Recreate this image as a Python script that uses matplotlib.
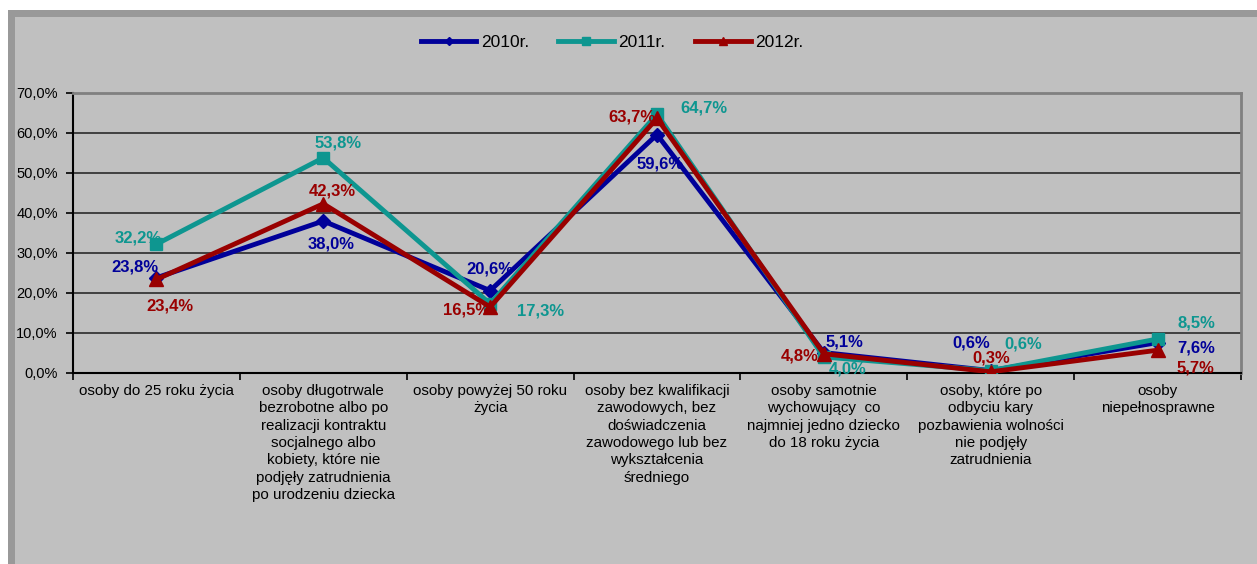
import matplotlib.pyplot as plt
from matplotlib.patches import Rectangle
from matplotlib.ticker import FuncFormatter, FixedLocator
import numpy as np

plt.rcParams['font.family'] = ['Liberation Sans', 'DejaVu Sans']

categories = [
    "osoby do 25 roku życia",
    "osoby długotrwale\nbezrobotne albo po\nrealizacji kontraktu\nsocjalnego albo\nkobiety, które nie\npodjęły zatrudnienia\npo urodzeniu dziecka",
    "osoby powyżej 50 roku\nżycia",
    "osoby bez kwalifikacji\nzawodowych, bez\ndoświadczenia\nzawodowego lub bez\nwykształcenia\nśredniego",
    "osoby samotnie\nwychowujący  co\nnajmniej jedno dziecko\ndo 18 roku życia",
    "osoby, które po\nodbyciu kary\npozbawienia wolności\nnie podjęły\nzatrudnienia",
    "osoby\nniepełnosprawne",
]
series_names = ["2010r.", "2011r.", "2012r."]
v2010 = [23.8, 38.0, 20.6, 59.6, 5.1, 0.6, 7.6]
v2011 = [32.2, 53.8, 17.3, 64.7, 4.0, 0.6, 8.5]
v2012 = [23.4, 42.3, 16.5, 63.7, 4.8, 0.3, 5.7]

colors = ["#000099", "#0e9690", "#990000"]
markers = ["D", "s", "^"]
msizes = [7, 9, 10]

# label offsets in pixels (dx, dy) for each point
offs = [
    [(-21, 11), (8, -23), (0, 22), (3, -29), (21, 11), (-19, 28), (39, -5)],
    [(-18, 6), (15, 15), (50, -7), (47, 6), (24, -12), (33, 27), (39, 16)],
    [(14, -27), (9, 13), (-24, -3), (-25, 1), (-24, -2), (1, 14), (38, -18)],
]

W, H = 1257, 564
fig = plt.figure(figsize=(W / 100, H / 100), dpi=100)
fig.patch.set_facecolor("white")

# chart area frame
fig.add_artist(Rectangle((8 / W, 0), 1 - 8 / W, 1 - 10 / H, transform=fig.transFigure,
                         facecolor="#999999", edgecolor="none", zorder=-2))
fig.add_artist(Rectangle((15 / W, 0), 1 - 15 / W, 1 - 17 / H, transform=fig.transFigure,
                         facecolor="#c0c0c0", edgecolor="none", zorder=-1))

ax = fig.add_axes([73 / W, 1 - 373 / H, (1241 - 73) / W, (373 - 93) / H])
ax.set_facecolor("#c0c0c0")

x = np.arange(len(categories))
all_vals = [v2010, v2011, v2012]
lines = []
for i, vals in enumerate(all_vals):
    ln, = ax.plot(x, vals, color=colors[i], lw=3.5, marker=markers[i], ms=msizes[i],
                  solid_joinstyle="miter", zorder=3 + i, label=series_names[i])
    lines.append(ln)
    for j, v in enumerate(vals):
        dx, dy = offs[i][j]
        ax.annotate(f"{v:.1f}%".replace(".", ","), (x[j], v),
                    xytext=(dx * 0.72, dy * 0.72), textcoords="offset points",
                    ha="center", va="center", fontsize=12, fontweight="bold",
                    color=colors[i], zorder=10)

ax.set_xlim(-0.5, len(categories) - 0.5)
ax.set_ylim(0, 70)
ax.set_yticks(np.arange(0, 71, 10))
ax.yaxis.set_major_formatter(FuncFormatter(lambda v, p: f"{v:.1f}%".replace(".", ",")))
ax.yaxis.grid(True, color="#2a2a2a", lw=1.2)
ax.set_axisbelow(True)

ax.set_xticks(x)
ax.set_xticklabels(categories, fontsize=10.9, linespacing=1.3, va="top")
ax.tick_params(axis="x", which="major", length=0, pad=8)
ax.xaxis.set_minor_locator(FixedLocator(np.arange(-0.5, len(categories), 1)))
ax.tick_params(axis="x", which="minor", length=5, width=1.2, color="black", direction="out")
ax.tick_params(axis="y", length=5, width=1.2, pad=6, labelsize=10.5)

for s in ["left", "bottom"]:
    ax.spines[s].set_color("black")
    ax.spines[s].set_linewidth(1.5)
for s in ["top", "right"]:
    ax.spines[s].set_color("#808080")
    ax.spines[s].set_linewidth(2)

fig.legend(handles=lines, loc="center", bbox_to_anchor=(612 / W, 1 - 42 / H), ncol=3,
           frameon=False, fontsize=12.5, handlelength=3.2, handletextpad=0.25,
           columnspacing=1.7, markerscale=0.6)

fig.savefig("out.png", dpi=100)
